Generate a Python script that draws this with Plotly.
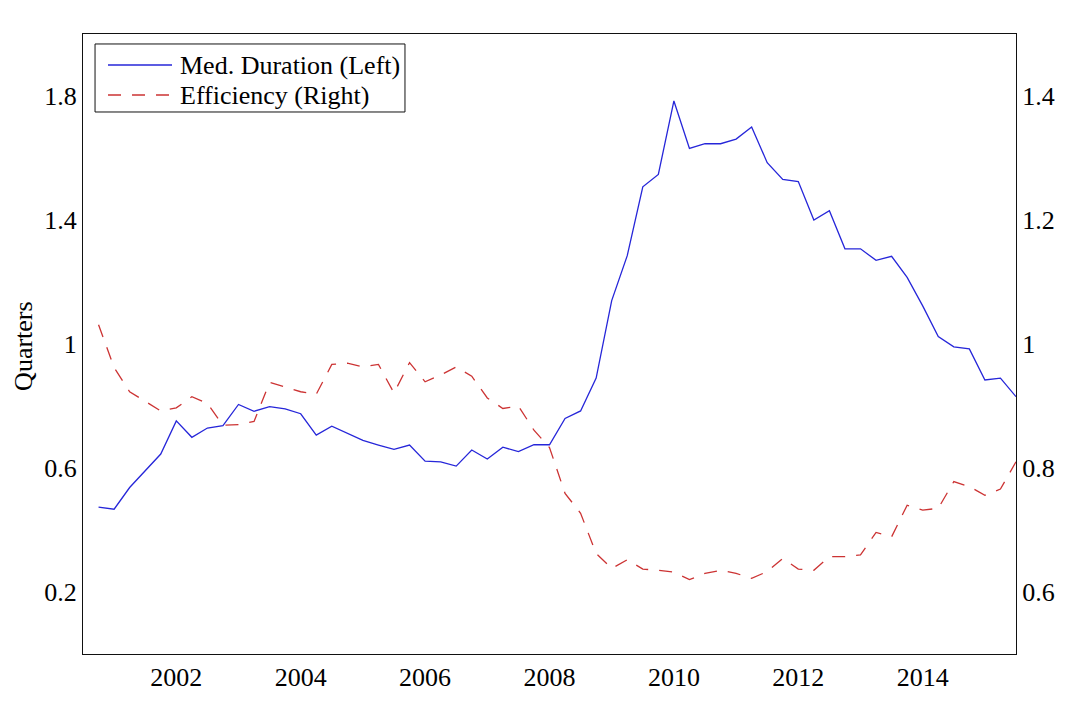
import plotly.graph_objects as go
import pandas as pd

quarters = pd.period_range("2000Q4", "2015Q3", freq="Q")

med_duration = [
    0.474, 0.467, 0.537, 0.591, 0.645, 0.752, 0.699, 0.729, 0.737, 0.805,
    0.783, 0.798, 0.791, 0.775, 0.706, 0.735, 0.712, 0.689, 0.674, 0.660,
    0.674, 0.622, 0.620, 0.606, 0.658, 0.629, 0.667, 0.653, 0.675, 0.675,
    0.760, 0.784, 0.890, 1.140, 1.285, 1.507, 1.547, 1.784, 1.631, 1.646,
    1.646, 1.661, 1.700, 1.585, 1.531, 1.524, 1.400, 1.430, 1.307, 1.307,
    1.270, 1.283, 1.215, 1.123, 1.024, 0.991, 0.984, 0.884, 0.890, 0.830,
]

efficiency = [
    1.031, 0.962, 0.923, 0.907, 0.892, 0.897, 0.915, 0.904, 0.869, 0.870,
    0.875, 0.938, 0.930, 0.923, 0.919, 0.967, 0.969, 0.963, 0.967, 0.921,
    0.970, 0.939, 0.950, 0.963, 0.948, 0.913, 0.896, 0.900, 0.861, 0.833,
    0.759, 0.727, 0.662, 0.638, 0.652, 0.637, 0.635, 0.632, 0.620, 0.630,
    0.635, 0.630, 0.622, 0.633, 0.654, 0.637, 0.635, 0.657, 0.657, 0.660,
    0.696, 0.689, 0.740, 0.732, 0.735, 0.778, 0.770, 0.756, 0.766, 0.810,
]

series_names = ["Med. Duration (Left)", "Efficiency (Right)"]
series_colors = ["#2626d9", "#cc3333"]
series_dash = ["solid", "13px,11px"]

x_ticks = [2002, 2004, 2006, 2008, 2010, 2012, 2014]
left_ticks = [0.2, 0.6, 1.0, 1.4, 1.8]
left_tick_text = ["0.2", "0.6", "1", "1.4", "1.8"]
right_ticks = [0.6, 0.8, 1.0, 1.2, 1.4]
right_tick_text = ["0.6", "0.8", "1", "1.2", "1.4"]

x = [p.year + (p.quarter - 1) / 4 for p in quarters]

FONT = "Liberation Serif"
FS = 26

fig = go.Figure()
fig.add_trace(go.Scatter(
    x=x, y=med_duration, mode="lines", name=series_names[0],
    line=dict(color=series_colors[0], width=1.3, dash=series_dash[0]), yaxis="y",
))
fig.add_trace(go.Scatter(
    x=x, y=efficiency, mode="lines", name=series_names[1],
    line=dict(color=series_colors[1], width=1.3, dash=series_dash[1]), yaxis="y2",
))

axis_common = dict(
    showgrid=False, zeroline=False, showline=True, linecolor="#111111",
    linewidth=1.3, ticks="", automargin=False,
    tickfont=dict(family=FONT, size=FS, color="black"),
)

# legend box drawn in paper coordinates (top-left of plot area)
shapes = [dict(
    type="rect", xref="paper", yref="paper",
    x0=0.0129, x1=0.3451, y0=0.8742, y1=0.9839,
    line=dict(color="#111111", width=1), fillcolor="white", layer="above",
)]
annotations = []
legend_rows = [0.950, 0.9016]
for name, color, dash, yy in zip(series_names, series_colors, series_dash, legend_rows):
    shapes.append(dict(
        type="line", xref="paper", yref="paper",
        x0=0.0268, x1=0.0954, y0=yy, y1=yy,
        line=dict(color=color, width=1.3, dash=dash), layer="above",
    ))
    annotations.append(dict(
        text=name, xref="paper", yref="paper", x=0.1018, y=yy,
        xanchor="left", yanchor="middle", showarrow=False,
        font=dict(family=FONT, size=FS, color="black"),
    ))

annotations.append(dict(
    text="Quarters", xref="paper", yref="paper",
    x=-0.0632, y=0.497, xanchor="center", yanchor="middle",
    textangle=-90, showarrow=False,
    font=dict(family=FONT, size=FS, color="black"),
))

fig.update_layout(
    width=1068, height=685,
    margin=dict(l=75, r=60, t=26, b=39, autoexpand=False),
    paper_bgcolor="white", plot_bgcolor="white",
    font=dict(family=FONT, size=FS, color="black"),
    showlegend=False,
    xaxis=dict(
        range=[2000.5, 2015.5], tickvals=x_ticks,
        ticktext=[str(t) for t in x_ticks], mirror=True, **axis_common,
    ),
    yaxis=dict(
        range=[0.0, 2.0], tickvals=left_ticks, ticktext=left_tick_text,
        **axis_common,
    ),
    yaxis2=dict(
        range=[0.5, 1.5], tickvals=right_ticks, ticktext=right_tick_text,
        overlaying="y", side="right", **axis_common,
    ),
    shapes=shapes,
    annotations=annotations,
)

fig.write_html("out.html")
